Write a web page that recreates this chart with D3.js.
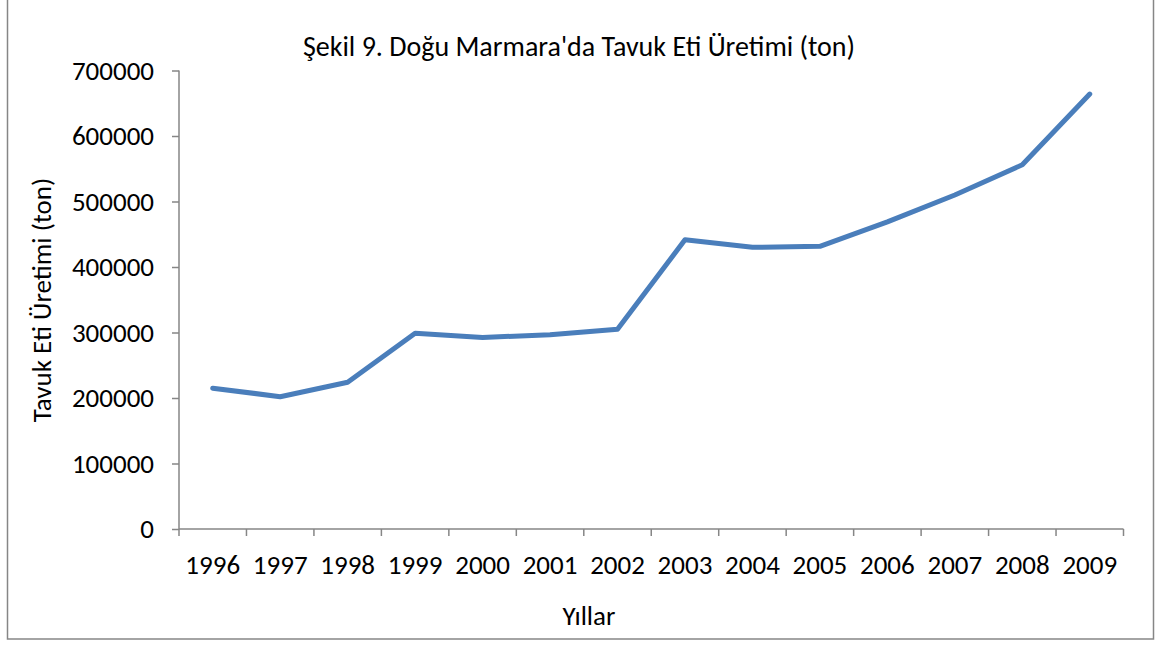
<!DOCTYPE html>
<html>
<head>
<meta charset="utf-8">
<script src="https://cdn.jsdelivr.net/npm/d3@7"></script>
<style>
  body { margin: 0; background: #fff; }
  text { font-family: Carlito, "Open Sans", "Noto Sans", sans-serif; fill: #000; }
</style>
</head>
<body>
<div id="figzone"></div>
<script>
var years = ["1996","1997","1998","1999","2000","2001","2002","2003","2004","2005","2006","2007","2008","2009"];
var production = [215000, 202000, 224000, 299000, 292500, 296500, 305000, 441500, 430000, 431500, 469000, 510000, 556000, 664000];
var yTicks = [0, 100000, 200000, 300000, 400000, 500000, 600000, 700000];

var width = 1155, height = 646;
var plotLeft = 179, plotRight = 1123.5, plotTop = 70.5, plotBottom = 529;

var svg = d3.select("#figzone").append("svg").attr("width", width).attr("height", height);

// outer frame
svg.append("rect").attr("x", 7.5).attr("y", -1).attr("width", 1146).attr("height", 640)
    .style("fill", "none").style("stroke", "#868686").style("stroke-width", 1.5);

var x = d3.scaleBand().domain(years).range([plotLeft, plotRight]);
var y = d3.scaleLinear().domain([0, 700000]).range([plotBottom, plotTop]);

// y axis
var gy = svg.append("g").attr("transform", "translate(" + plotLeft + ",0)")
    .call(d3.axisLeft(y).tickValues(yTicks).tickSize(7).tickPadding(18).tickFormat(d3.format("d")));
gy.select(".domain").attr("d", "M0," + plotTop + "V" + plotBottom);

// x axis
var gx = svg.append("g").attr("transform", "translate(0," + plotBottom + ")")
    .call(d3.axisBottom(x).tickSize(0).tickPadding(26));
gx.select(".domain").attr("d", "M" + plotLeft + ",0H" + plotRight);
gx.selectAll(".xtick").data(d3.range(years.length + 1)).enter().append("line")
    .attr("class", "xtick")
    .attr("x1", function(i){ return plotLeft + i * x.step(); })
    .attr("x2", function(i){ return plotLeft + i * x.step(); })
    .attr("y1", 0).attr("y2", 7);

svg.selectAll(".domain, .tick line, .xtick").style("stroke", "#868686").style("stroke-width", 1.5);
svg.selectAll(".tick text").style("font-size", "27px").style("font-family", 'Carlito, "Open Sans", sans-serif').style("fill", "#000");

// line
var line = d3.line()
    .x(function(d, i){ return x(years[i]) + x.bandwidth() / 2; })
    .y(function(d){ return y(d); });

svg.append("path").datum(production).attr("d", line)
    .style("fill", "none").style("stroke", "#4A7EBB").style("stroke-width", 5)
    .style("stroke-linejoin", "round").style("stroke-linecap", "round");

// titles
svg.append("text").attr("x", 579).attr("y", 56).attr("text-anchor", "middle")
    .style("font-size", "28px").text("Şekil 9. Doğu Marmara'da Tavuk Eti Üretimi (ton)");
svg.append("text").attr("x", 589).attr("y", 625).attr("text-anchor", "middle")
    .style("font-size", "27px").text("Yıllar");
svg.append("text").attr("transform", "translate(51,300) rotate(-90)").attr("text-anchor", "middle")
    .style("font-size", "27px").text("Tavuk Eti Üretimi (ton)");
</script>
</body>
</html>
